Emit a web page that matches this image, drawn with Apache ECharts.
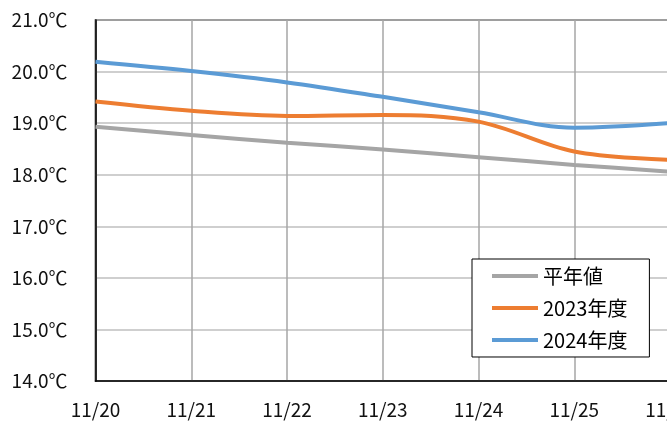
<!DOCTYPE html>
<html>
<head>
<meta charset="utf-8">
<script src="https://cdn.jsdelivr.net/npm/echarts@6/dist/echarts.min.js"></script>
<style>html,body{margin:0;padding:0;background:#fff;}#c{width:667px;height:422px;}</style>
</head>
<body>
<div id="c"></div>
<script>
const categories = ['11/20','11/21','11/22','11/23','11/24','11/25','11/26'];
const normalValues = [18.93, 18.77, 18.62, 18.49, 18.34, 18.19, 18.06];
const values2023 = [19.42, 19.24, 19.14, 19.16, 19.03, 18.45, 18.29];
const values2024 = [20.19, 20.01, 19.79, 19.51, 19.21, 18.91, 19.00];
const seriesNames = ['平年値', '2023年度', '2024年度'];
const yTicks = {min: 14, max: 21, interval: 1};

const FONT = '"Noto Sans CJK JP", "DejaVu Sans", sans-serif';
const chart = echarts.init(document.getElementById('c'));
chart.setOption({
  animation: false,
  backgroundColor: '#fff',
  grid: {left: 95.5, top: 20, width: 574.5, height: 361, outerBoundsMode: 'none', containLabel: false, show: true, borderColor: '#000', borderWidth: 1.5, backgroundColor: 'transparent'},
  xAxis: {
    type: 'category', data: categories, boundaryGap: false,
    axisLine: {lineStyle: {color: '#000', width: 1.5}},
    axisTick: {show: false},
    axisLabel: {color: '#111', fontFamily: FONT, fontSize: 19, margin: 19, showMaxLabel: true},
    splitLine: {show: true, lineStyle: {color: '#A6A6A6', width: 1.5}}
  },
  yAxis: {
    type: 'value', min: yTicks.min, max: yTicks.max, interval: yTicks.interval,
    axisLine: {show: true, lineStyle: {color: '#000', width: 1.5}},
    axisTick: {show: false},
    axisLabel: {color: '#111', fontFamily: FONT, fontSize: 19, margin: 28, formatter: v => v.toFixed(1) + '℃'},
    splitLine: {show: true, lineStyle: {color: '#BFBFBF', width: 1.5}}
  },
  legend: {
    orient: 'vertical', left: 472, top: 259,
    backgroundColor: '#fff', borderColor: '#000', borderWidth: 1,
    padding: [7, 22, 7, 20], itemGap: 12, itemWidth: 46, itemHeight: 4, icon: 'rect',
    textStyle: {color: '#000', fontFamily: FONT, fontSize: 20, width: 86, overflow: 'none'},
    data: seriesNames
  },
  series: [
    {name: seriesNames[0], type: 'line', data: normalValues, smooth: 0.35, symbol: 'none', lineStyle: {color: '#A5A5A5', width: 4}, itemStyle: {color: '#A5A5A5'}},
    {name: seriesNames[1], type: 'line', data: values2023, smooth: 0.35, symbol: 'none', lineStyle: {color: '#ED7D31', width: 4}, itemStyle: {color: '#ED7D31'}},
    {name: seriesNames[2], type: 'line', data: values2024, smooth: 0.35, symbol: 'none', lineStyle: {color: '#5B9BD5', width: 4}, itemStyle: {color: '#5B9BD5'}}
  ]
});
</script>
</body>
</html>
